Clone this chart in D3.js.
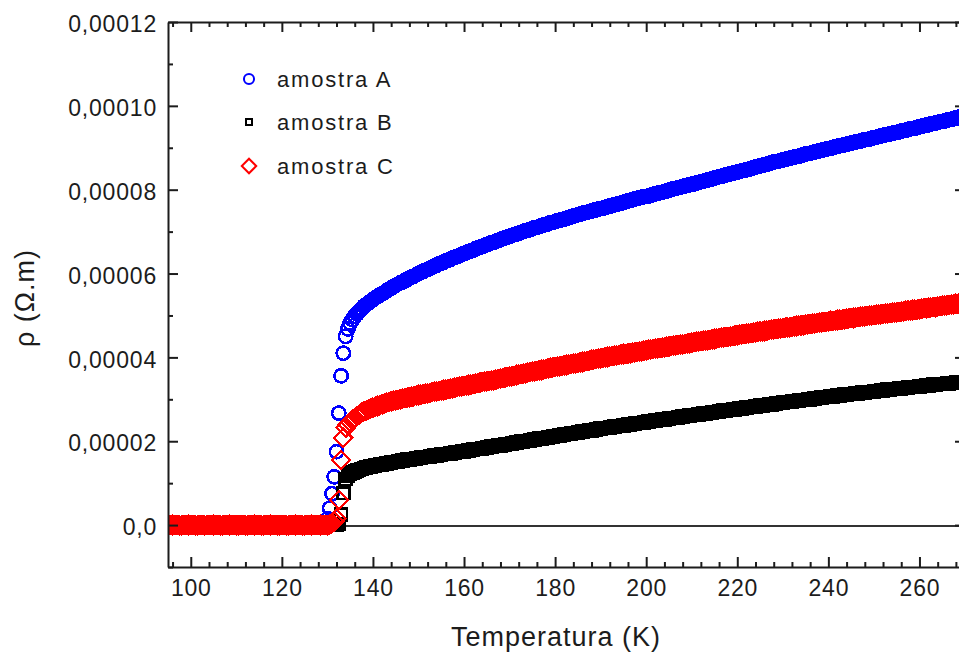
<!DOCTYPE html>
<html>
<head>
<meta charset="utf-8">
<script src="https://cdn.jsdelivr.net/npm/d3@7"></script>
<style>
  body { margin: 0; background: #fff; }
  svg { display: block; }
</style>
</head>
<body>
<div id="container"></div>
<script>
/* CONSTANTS AND GLOBALS */
const width = 959;
const height = 655;
const plotLeft = 168, plotRight = 965, plotTop = 22, plotBottom = 567;
const fontFamily = '"Liberation Sans", Arial, sans-serif';
const axisColor = "#1c1c1c";

/* DATA */
// temperature grid (K), one row = 5 K
const temperature = [
  95,95.5,96,96.5,97,97.5,98,98.5,99,99.5,
  100,100.5,101,101.5,102,102.5,103,103.5,104,104.5,
  105,105.5,106,106.5,107,107.5,108,108.5,109,109.5,
  110,110.5,111,111.5,112,112.5,113,113.5,114,114.5,
  115,115.5,116,116.5,117,117.5,118,118.5,119,119.5,
  120,120.5,121,121.5,122,122.5,123,123.5,124,124.5,
  125,125.5,126,126.5,127,127.5,128,128.5,129,129.5,
  130,130.5,131,131.5,132,132.5,133,133.5,134,134.5,
  135,135.5,136,136.5,137,137.5,138,138.5,139,139.5,
  140,140.5,141,141.5,142,142.5,143,143.5,144,144.5,
  145,145.5,146,146.5,147,147.5,148,148.5,149,149.5,
  150,150.5,151,151.5,152,152.5,153,153.5,154,154.5,
  155,155.5,156,156.5,157,157.5,158,158.5,159,159.5,
  160,160.5,161,161.5,162,162.5,163,163.5,164,164.5,
  165,165.5,166,166.5,167,167.5,168,168.5,169,169.5,
  170,170.5,171,171.5,172,172.5,173,173.5,174,174.5,
  175,175.5,176,176.5,177,177.5,178,178.5,179,179.5,
  180,180.5,181,181.5,182,182.5,183,183.5,184,184.5,
  185,185.5,186,186.5,187,187.5,188,188.5,189,189.5,
  190,190.5,191,191.5,192,192.5,193,193.5,194,194.5,
  195,195.5,196,196.5,197,197.5,198,198.5,199,199.5,
  200,200.5,201,201.5,202,202.5,203,203.5,204,204.5,
  205,205.5,206,206.5,207,207.5,208,208.5,209,209.5,
  210,210.5,211,211.5,212,212.5,213,213.5,214,214.5,
  215,215.5,216,216.5,217,217.5,218,218.5,219,219.5,
  220,220.5,221,221.5,222,222.5,223,223.5,224,224.5,
  225,225.5,226,226.5,227,227.5,228,228.5,229,229.5,
  230,230.5,231,231.5,232,232.5,233,233.5,234,234.5,
  235,235.5,236,236.5,237,237.5,238,238.5,239,239.5,
  240,240.5,241,241.5,242,242.5,243,243.5,244,244.5,
  245,245.5,246,246.5,247,247.5,248,248.5,249,249.5,
  250,250.5,251,251.5,252,252.5,253,253.5,254,254.5,
  255,255.5,256,256.5,257,257.5,258,258.5,259,259.5,
  260,260.5,261,261.5,262,262.5,263,263.5,264,264.5,
  265,265.5,266,266.5,267,267.5,268,268.5,269,269.5
];

// resistivity in units of 1e-5 Ohm.m
const rhoA = [
  0,0,0,0,0,0,0,0,0,0,
  0,0,0,0,0,0,0,0,0,0,
  0,0,0,0,0,0,0,0,0,0,
  0,0,0,0,0,0,0,0,0,0,
  0,0,0,0,0,0,0,0,0,0,
  0,0,0,0,0,0,0,0,0,0,
  0,0,0,0,0,0,0,0,0,0,
  0.15,0.40,0.75,1.15,1.75,2.67,3.56,4.10,4.50,4.68,
  4.82,4.90,4.98,5.04,5.10,5.16,5.22,5.26,5.30,5.34,
  5.38,5.42,5.45,5.49,5.52,5.55,5.59,5.62,5.65,5.69,
  5.72,5.75,5.78,5.80,5.83,5.86,5.89,5.92,5.94,5.97,
  6.00,6.03,6.05,6.08,6.10,6.13,6.15,6.18,6.20,6.23,
  6.25,6.27,6.30,6.32,6.34,6.37,6.39,6.41,6.43,6.46,
  6.48,6.50,6.52,6.54,6.56,6.59,6.61,6.63,6.65,6.67,
  6.69,6.71,6.73,6.75,6.77,6.79,6.81,6.83,6.85,6.87,
  6.89,6.91,6.93,6.94,6.96,6.98,7.00,7.02,7.03,7.05,
  7.07,7.09,7.10,7.12,7.14,7.16,7.17,7.19,7.21,7.22,
  7.24,7.26,7.27,7.29,7.30,7.32,7.34,7.35,7.37,7.38,
  7.40,7.42,7.43,7.45,7.46,7.48,7.49,7.51,7.52,7.54,
  7.55,7.56,7.58,7.59,7.61,7.62,7.64,7.65,7.67,7.68,
  7.70,7.72,7.73,7.75,7.76,7.78,7.79,7.81,7.82,7.83,
  7.84,7.85,7.87,7.88,7.90,7.91,7.93,7.94,7.96,7.97,
  7.99,8.00,8.02,8.03,8.05,8.06,8.08,8.09,8.10,8.12,
  8.13,8.14,8.16,8.17,8.19,8.20,8.22,8.23,8.25,8.26,
  8.28,8.29,8.31,8.32,8.34,8.35,8.37,8.38,8.39,8.41,
  8.42,8.43,8.45,8.46,8.48,8.49,8.51,8.52,8.54,8.55,
  8.57,8.58,8.60,8.61,8.63,8.64,8.66,8.67,8.68,8.70,
  8.71,8.72,8.74,8.75,8.76,8.78,8.79,8.80,8.82,8.83,
  8.85,8.86,8.87,8.89,8.90,8.91,8.93,8.94,8.95,8.97,
  8.98,8.99,9.01,9.02,9.03,9.05,9.06,9.07,9.08,9.10,
  9.11,9.12,9.14,9.15,9.16,9.18,9.19,9.20,9.21,9.23,
  9.24,9.25,9.27,9.28,9.29,9.31,9.32,9.33,9.34,9.36,
  9.37,9.38,9.40,9.41,9.42,9.44,9.45,9.46,9.47,9.49,
  9.50,9.51,9.53,9.54,9.55,9.57,9.58,9.59,9.60,9.62,
  9.63,9.64,9.66,9.67,9.68,9.70,9.71,9.72,9.74,9.75
];

const rhoB = [
  0,0,0,0,0,0,0,0,0,0,
  0,0,0,0,0,0,0,0,0,0,
  0,0,0,0,0,0,0,0,0,0,
  0,0,0,0,0,0,0,0,0,0,
  0,0,0,0,0,0,0,0,0,0,
  0,0,0,0,0,0,0,0,0,0,
  0,0,0,0,0,0,0,0,0,0,
  0,0,0,0,0,0.02,0.25,0.76,1.10,1.17,
  1.22,1.25,1.28,1.30,1.32,1.34,1.36,1.37,1.38,1.40,
  1.41,1.42,1.43,1.44,1.45,1.46,1.47,1.48,1.49,1.50,
  1.51,1.52,1.53,1.54,1.55,1.56,1.56,1.57,1.58,1.59,
  1.60,1.61,1.62,1.62,1.63,1.64,1.65,1.66,1.66,1.67,
  1.68,1.69,1.70,1.70,1.71,1.72,1.73,1.74,1.74,1.75,
  1.76,1.77,1.78,1.79,1.80,1.81,1.81,1.82,1.83,1.84,
  1.85,1.86,1.87,1.88,1.89,1.90,1.90,1.91,1.92,1.93,
  1.94,1.95,1.96,1.97,1.98,1.99,1.99,2.00,2.01,2.02,
  2.03,2.04,2.05,2.06,2.07,2.08,2.08,2.09,2.10,2.11,
  2.12,2.13,2.14,2.15,2.16,2.17,2.17,2.18,2.19,2.20,
  2.21,2.22,2.23,2.24,2.25,2.26,2.26,2.27,2.28,2.29,
  2.30,2.31,2.32,2.32,2.33,2.34,2.35,2.36,2.36,2.37,
  2.38,2.39,2.40,2.40,2.41,2.42,2.43,2.44,2.44,2.45,
  2.46,2.47,2.48,2.48,2.49,2.50,2.51,2.52,2.52,2.53,
  2.54,2.55,2.56,2.56,2.57,2.58,2.59,2.60,2.60,2.61,
  2.62,2.63,2.63,2.64,2.65,2.66,2.66,2.67,2.68,2.69,
  2.70,2.70,2.71,2.72,2.73,2.73,2.74,2.75,2.76,2.76,
  2.77,2.78,2.78,2.79,2.80,2.81,2.81,2.82,2.83,2.84,
  2.85,2.85,2.86,2.87,2.88,2.88,2.89,2.90,2.91,2.91,
  2.92,2.93,2.93,2.94,2.95,2.96,2.96,2.97,2.98,2.98,
  2.99,3.00,3.00,3.01,3.02,3.03,3.03,3.04,3.05,3.05,
  3.06,3.07,3.07,3.08,3.09,3.09,3.10,3.11,3.11,3.12,
  3.13,3.13,3.14,3.14,3.15,3.16,3.16,3.17,3.18,3.18,
  3.19,3.20,3.20,3.21,3.21,3.22,3.23,3.23,3.24,3.24,
  3.25,3.26,3.26,3.27,3.27,3.28,3.29,3.29,3.30,3.30,
  3.31,3.32,3.32,3.33,3.33,3.34,3.35,3.35,3.36,3.36,
  3.37,3.37,3.38,3.38,3.39,3.39,3.40,3.40,3.41,3.41
];

const rhoC = [
  0,0,0,0,0,0,0,0,0,0,
  0,0,0,0,0,0,0,0,0,0,
  0,0,0,0,0,0,0,0,0,0,
  0,0,0,0,0,0,0,0,0,0,
  0,0,0,0,0,0,0,0,0,0,
  0,0,0,0,0,0,0,0,0,0,
  0,0,0,0,0,0,0,0,0,0,
  0,0.02,0.04,0.08,0.15,0.60,1.55,2.08,2.32,2.40,
  2.46,2.51,2.55,2.60,2.64,2.68,2.71,2.73,2.76,2.78,
  2.80,2.82,2.84,2.86,2.88,2.90,2.92,2.93,2.95,2.97,
  2.98,2.99,3.00,3.02,3.03,3.04,3.05,3.06,3.07,3.09,
  3.10,3.11,3.12,3.13,3.14,3.15,3.17,3.18,3.19,3.20,
  3.21,3.22,3.23,3.24,3.25,3.26,3.28,3.29,3.30,3.31,
  3.32,3.33,3.34,3.35,3.36,3.37,3.39,3.40,3.41,3.42,
  3.43,3.44,3.45,3.46,3.47,3.48,3.50,3.51,3.52,3.53,
  3.54,3.55,3.56,3.58,3.59,3.60,3.61,3.62,3.64,3.65,
  3.66,3.67,3.68,3.69,3.70,3.71,3.73,3.74,3.75,3.76,
  3.77,3.78,3.79,3.80,3.81,3.82,3.83,3.84,3.85,3.86,
  3.87,3.88,3.89,3.90,3.91,3.92,3.94,3.95,3.96,3.97,
  3.98,3.99,4.00,4.01,4.02,4.03,4.04,4.05,4.06,4.07,
  4.08,4.08,4.09,4.10,4.11,4.12,4.13,4.14,4.15,4.16,
  4.17,4.18,4.19,4.20,4.21,4.22,4.22,4.23,4.24,4.25,
  4.26,4.27,4.28,4.29,4.30,4.31,4.31,4.32,4.33,4.34,
  4.35,4.36,4.37,4.38,4.39,4.40,4.40,4.41,4.42,4.43,
  4.44,4.45,4.46,4.47,4.48,4.49,4.49,4.50,4.51,4.52,
  4.53,4.54,4.55,4.56,4.56,4.57,4.58,4.59,4.60,4.61,
  4.62,4.62,4.63,4.64,4.65,4.66,4.67,4.67,4.68,4.69,
  4.70,4.71,4.72,4.72,4.73,4.74,4.75,4.76,4.76,4.77,
  4.78,4.79,4.80,4.80,4.81,4.82,4.83,4.84,4.84,4.85,
  4.86,4.87,4.87,4.88,4.89,4.90,4.90,4.91,4.92,4.93,
  4.94,4.94,4.95,4.96,4.97,4.97,4.98,4.99,5.00,5.00,
  5.01,5.02,5.02,5.03,5.04,5.05,5.05,5.06,5.07,5.07,
  5.08,5.09,5.09,5.10,5.11,5.12,5.12,5.13,5.14,5.14,
  5.15,5.16,5.17,5.17,5.18,5.19,5.20,5.20,5.21,5.22,
  5.23,5.24,5.24,5.25,5.26,5.27,5.28,5.28,5.29,5.30
];

const seriesNames = ["amostra A", "amostra B", "amostra C"];

// axis ticks
const xMajorTicks = [100, 120, 140, 160, 180, 200, 220, 240, 260];
const yMajorTicks = [0, 2, 4, 6, 8, 10, 12];
const yTickLabels = ["0,0", "0,00002", "0,00004", "0,00006", "0,00008", "0,00010", "0,00012"];
const yMinorTicks = [-1, 1, 3, 5, 7, 9, 11];
const xMinorTicks = d3.range(96, 270, 4).filter(t => t % 20 !== 0);

/* SCALES */
const xScale = d3.scaleLinear()
  .domain([95, 270])
  .range([plotLeft, plotRight]);

const yScale = d3.scaleLinear()
  .domain([-1, 12])
  .range([plotBottom, plotTop]);

/* HTML ELEMENTS */
const svg = d3.select("#container")
  .append("svg")
  .attr("width", width)
  .attr("height", height)
  .attr("font-family", fontFamily);

svg.append("defs").append("clipPath")
  .attr("id", "plot-clip")
  .append("rect")
  .attr("x", plotLeft)
  .attr("y", plotTop)
  .attr("width", plotRight - plotLeft)
  .attr("height", plotBottom - plotTop);

// zero line
svg.append("line")
  .attr("x1", plotLeft)
  .attr("x2", plotRight)
  .attr("y1", yScale(0) + 1)
  .attr("y2", yScale(0) + 1)
  .attr("stroke", "#333")
  .attr("stroke-width", 2);

// marker styles per sample
const markers = [
  { values: rhoA, color: "#0000ff", type: d3.symbolCircle, size: 140, legendSize: 80, rotate: 0, stroke: 2.6 },
  { values: rhoB, color: "#000000", type: d3.symbolSquare, size: 140, legendSize: 36, rotate: 0, stroke: 2.6 },
  { values: rhoC, color: "#ff0000", type: d3.symbolSquare, size: 165, legendSize: 104, rotate: 45, stroke: 2.2 }
];

const plot = svg.append("g").attr("clip-path", "url(#plot-clip)");

markers.forEach(m => {
  const points = temperature.map((t, i) => ({ t: t, v: m.values[i] }));
  plot.append("g")
    .attr("shape-rendering", "crispEdges")
    .selectAll("path")
    .data(points)
    .join("path")
    .attr("d", d3.symbol().type(m.type).size(m.size))
    .attr("transform", d => `translate(${xScale(d.t)},${yScale(d.v)}) rotate(${m.rotate})`)
    .attr("fill", "none")
    .attr("stroke", m.color)
    .attr("stroke-width", m.stroke);
});

/* AXES */
function styleAxis(g) {
  g.attr("font-family", fontFamily);
  g.select(".domain").attr("stroke", axisColor).attr("stroke-width", 2);
  g.selectAll(".tick line").attr("stroke", axisColor).attr("stroke-width", 2);
}

// bottom
svg.append("g")
  .attr("transform", `translate(0,${plotBottom})`)
  .call(d3.axisBottom(xScale).tickValues(xMajorTicks).tickSizeInner(-10).tickSizeOuter(0))
  .call(styleAxis)
  .call(g => g.selectAll("text")
    .attr("y", 29).attr("dy", 0)
    .attr("font-size", 23).attr("letter-spacing", 0.8).attr("fill", "#1c1c1c"));
svg.append("g")
  .attr("transform", `translate(0,${plotBottom})`)
  .call(d3.axisBottom(xScale).tickValues(xMinorTicks).tickSize(-5).tickFormat(""))
  .call(styleAxis)
  .call(g => g.select(".domain").remove());

// top
svg.append("g")
  .attr("transform", `translate(0,${plotTop})`)
  .call(d3.axisTop(xScale).tickValues(xMajorTicks).tickSizeInner(-10).tickSizeOuter(0).tickFormat(""))
  .call(styleAxis);
svg.append("g")
  .attr("transform", `translate(0,${plotTop})`)
  .call(d3.axisTop(xScale).tickValues(xMinorTicks).tickSize(-5).tickFormat(""))
  .call(styleAxis)
  .call(g => g.select(".domain").remove());

// left
svg.append("g")
  .attr("transform", `translate(${plotLeft},0)`)
  .call(d3.axisLeft(yScale).tickValues(yMajorTicks).tickSizeInner(-10).tickSizeOuter(0).tickPadding(11)
    .tickFormat((d, i) => yTickLabels[i]))
  .call(styleAxis)
  .call(g => g.selectAll("text")
    .attr("dy", "0.42em")
    .attr("font-size", 23).attr("letter-spacing", 0.8).attr("fill", "#1c1c1c"));
svg.append("g")
  .attr("transform", `translate(${plotLeft},0)`)
  .call(d3.axisLeft(yScale).tickValues(yMinorTicks).tickSize(-5).tickFormat(""))
  .call(styleAxis)
  .call(g => g.select(".domain").remove());

// right (sits just past the window edge)
svg.append("g")
  .attr("transform", `translate(${plotRight},0)`)
  .call(d3.axisRight(yScale).tickValues(yMajorTicks).tickSizeInner(-10).tickSizeOuter(0).tickFormat(""))
  .call(styleAxis);

/* AXIS TITLES */
svg.append("text")
  .attr("x", 556)
  .attr("y", 646)
  .attr("text-anchor", "middle")
  .attr("font-size", 27)
  .attr("letter-spacing", 1)
  .attr("fill", "#1c1c1c")
  .text("Temperatura (K)");

svg.append("text")
  .attr("transform", "translate(34,298) rotate(-90)")
  .attr("text-anchor", "middle")
  .attr("font-size", 27)
  .attr("letter-spacing", 1)
  .attr("fill", "#1c1c1c")
  .text("ρ (Ω.m)");

/* LEGEND */
const legendY = [79, 122, 166];
const legend = svg.append("g");
markers.forEach((m, i) => {
  legend.append("path")
    .attr("d", d3.symbol().type(m.type).size(m.legendSize))
    .attr("transform", `translate(249,${legendY[i]}) rotate(${m.rotate})`)
    .attr("fill", "none")
    .attr("stroke", m.color)
    .attr("stroke-width", 2);
  legend.append("text")
    .attr("x", 277)
    .attr("y", legendY[i])
    .attr("dy", "0.35em")
    .attr("font-size", 22)
    .attr("letter-spacing", 1.8)
    .attr("fill", "#1c1c1c")
    .text(seriesNames[i]);
});
</script>
</body>
</html>
